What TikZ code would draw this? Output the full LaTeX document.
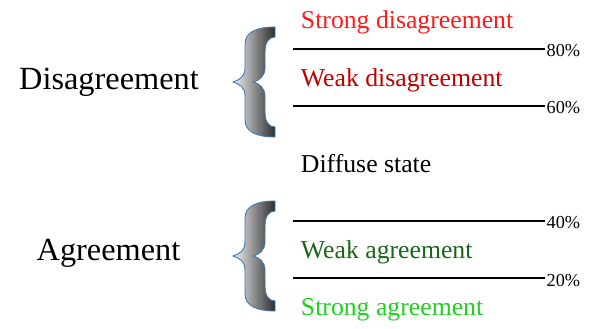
\documentclass[tikz,border=0pt]{standalone}
\usepackage{fontspec}
\setmainfont{Liberation Serif}
\usepackage{xcolor}
\usepackage{tikz}
\usetikzlibrary{calc,positioning}

\definecolor{strongred}{HTML}{FF1A1A}
\definecolor{weakred}{HTML}{C00000}
\definecolor{weakgreen}{HTML}{196619}
\definecolor{stronggreen}{HTML}{1FD11F}
\definecolor{braceblue}{HTML}{3C74B2}

\newcommand{\curlybrace}{%
  (42,55) .. controls (24,55) and (12,50) .. (12,38) -- (12,14)
  .. controls (12,5) and (6,2) .. (0,0)
  .. controls (6,-2) and (12,-5) .. (12,-14) -- (12,-38)
  .. controls (12,-50) and (24,-55) .. (42,-55) -- (42,-45)
  .. controls (36,-45) and (32,-40) .. (32,-30) -- (32,-14)
  .. controls (32,-6) and (26,-1) .. (20,0)
  .. controls (26,1) and (32,6) .. (32,14) -- (32,30)
  .. controls (32,40) and (36,45) .. (42,45) -- cycle}

\begin{document}
\begin{tikzpicture}[x=0.025cm, y=0.025cm,
    side/.style={font=\fontsize{23}{27}\selectfont, anchor=base},
    level/.style={font=\fontsize{18.3}{22}\selectfont, anchor=base west},
    pct/.style={font=\fontsize{13}{15}\selectfont, anchor=base west, inner sep=1pt},
    cut/.style={line width=0.75pt},
    brace/.style={draw=braceblue, line width=0.6pt, left color=blue!8!gray!12, right color=black!82}]
  \useasboundingbox (0,0) rectangle (590,328);
  % --- group names ---
  \node[side] (dis) at (109,238) {Disagreement};
  \node[side] (agr) at (108.5,67) {Agreement};
  % --- braces ---
  \begin{scope}[shift={(233,246)}]
    \path[brace] \curlybrace;
  \end{scope}
  \begin{scope}[shift={(233,72)}]
    \path[brace] \curlybrace;
  \end{scope}
  % --- thresholds ---
  \foreach \y/\p [count=\i] in {279/80, 222/60, 107/40, 50/20} {
    \coordinate (l\i) at (293,\y);
    \node[pct] (p\i) at (545,\y-8) {\p\%};
    \draw[cut] (l\i) -- (p\i.west |- l\i);
  }
  % --- levels ---
  \node[level, strongred] (sd) at (296,299) {Strong disagreement};
  \node[level, weakred] (wd) at (296,241) {Weak disagreement};
  \node[level] (ds) at (296,155) {Diffuse state};
  \node[level, weakgreen] (wa) at (296,69) {Weak agreement};
  \node[level, stronggreen] (sa) at (296,13) {Strong agreement};
\end{tikzpicture}
\end{document}
